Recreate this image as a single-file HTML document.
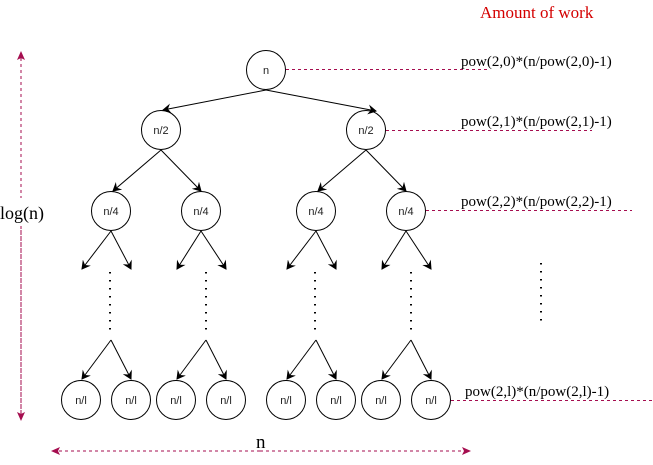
<!DOCTYPE html>
<html><head><meta charset="utf-8"><style>html,body{margin:0;padding:0;background:#fff;}</style></head>
<body>
<svg width="653" height="460" viewBox="0 0 653 460" xmlns="http://www.w3.org/2000/svg">
<defs>
<marker id="a" markerWidth="10" markerHeight="10" refX="8" refY="5" orient="auto" markerUnits="userSpaceOnUse"><path d="M0,0 L9,5 L0,10 L3,5 Z" fill="#000"/></marker>
<marker id="r" markerWidth="10" markerHeight="10" refX="8" refY="5" orient="auto" markerUnits="userSpaceOnUse"><path d="M0,1 L9,5 L0,9 L2,5 Z" fill="#a50d4f"/></marker>
</defs>
<g fill="none" stroke="#000" stroke-width="1">
<circle cx="266" cy="70" r="19.5"/>
<circle cx="161" cy="130" r="19.5"/><circle cx="366" cy="130" r="19.5"/>
<circle cx="111" cy="211" r="19.5"/><circle cx="201" cy="211" r="19.5"/><circle cx="316" cy="211" r="19.5"/><circle cx="406" cy="211" r="19.5"/>
<circle cx="81" cy="400" r="19.5"/><circle cx="131" cy="400" r="19.5"/><circle cx="176" cy="400" r="19.5"/><circle cx="226" cy="400" r="19.5"/>
<circle cx="286" cy="400" r="19.5"/><circle cx="336" cy="400" r="19.5"/><circle cx="381" cy="400" r="19.5"/><circle cx="431" cy="400" r="19.5"/>
<g marker-end="url(#a)">
<line x1="266" y1="90" x2="163" y2="110"/><line x1="266" y1="90" x2="376" y2="111"/>
<line x1="161" y1="150" x2="113" y2="191"/><line x1="161" y1="150" x2="201" y2="191"/>
<line x1="366" y1="150" x2="318" y2="191"/><line x1="366" y1="150" x2="406" y2="191"/>
<line x1="111" y1="231" x2="82" y2="269"/><line x1="111" y1="231" x2="131" y2="269"/>
<line x1="201" y1="231" x2="177" y2="269"/><line x1="201" y1="231" x2="226" y2="269"/>
<line x1="316" y1="231" x2="287" y2="269"/><line x1="316" y1="231" x2="336" y2="269"/>
<line x1="406" y1="231" x2="382" y2="269"/><line x1="406" y1="231" x2="431" y2="269"/>
<line x1="111" y1="340" x2="82" y2="379"/><line x1="111" y1="340" x2="131" y2="379"/>
<line x1="206" y1="340" x2="177" y2="379"/><line x1="206" y1="340" x2="226" y2="379"/>
<line x1="316" y1="340" x2="287" y2="379"/><line x1="316" y1="340" x2="336" y2="379"/>
<line x1="411" y1="340" x2="382" y2="379"/><line x1="411" y1="340" x2="431" y2="379"/>
</g>
</g>
<g stroke="#000" stroke-width="2" stroke-dasharray="1.5 6.5" fill="none">
<line x1="110" y1="272" x2="110" y2="332"/><line x1="206" y1="272" x2="206" y2="332"/>
<line x1="315" y1="272" x2="315" y2="332"/><line x1="411" y1="272" x2="411" y2="332"/>
<line x1="541" y1="263" x2="541" y2="323"/>
</g>
<g stroke="#a50d4f" stroke-width="1" stroke-dasharray="3 3" fill="none">
<line x1="286" y1="69.5" x2="487" y2="69.5"/>
<line x1="386" y1="130.5" x2="592" y2="130.5"/>
<line x1="426" y1="210.5" x2="632" y2="210.5"/>
<line x1="451" y1="400.5" x2="653" y2="400.5"/>
<line x1="21" y1="415" x2="21" y2="52" marker-end="url(#r)"/>
<line x1="21" y1="200" x2="21" y2="420" marker-end="url(#r)"/>
<line x1="260" y1="451" x2="52" y2="451" marker-end="url(#r)"/>
<line x1="260" y1="451" x2="470" y2="451" marker-end="url(#r)"/>
</g>
<rect x="0" y="198" width="48" height="28" fill="#fff"/>
<rect x="254" y="432" width="18" height="16" fill="#fff"/>
<g font-family="Liberation Sans, sans-serif" font-size="11" fill="#222" text-anchor="middle">
<text x="266" y="74">n</text>
<text x="161" y="134">n/2</text><text x="366" y="134">n/2</text>
<text x="111" y="215">n/4</text><text x="201" y="215">n/4</text><text x="316" y="215">n/4</text><text x="406" y="215">n/4</text>
<text x="81" y="404">n/l</text><text x="131" y="404">n/l</text><text x="176" y="404">n/l</text><text x="226" y="404">n/l</text>
<text x="286" y="404">n/l</text><text x="336" y="404">n/l</text><text x="381" y="404">n/l</text><text x="431" y="404">n/l</text>
</g>
<g font-family="Liberation Serif, serif" fill="#000">
<text x="480" y="18" font-size="17" fill="#d40000">Amount of work</text>
<text x="461" y="66" font-size="15">pow(2,0)*(n/pow(2,0)-1)</text>
<text x="461" y="126" font-size="15">pow(2,1)*(n/pow(2,1)-1)</text>
<text x="461" y="206" font-size="15">pow(2,2)*(n/pow(2,2)-1)</text>
<text x="465" y="396" font-size="15">pow(2,l)*(n/pow(2,l)-1)</text>
<text x="0" y="219" font-size="18">log(n)</text>
<text x="256" y="448" font-size="19">n</text>
</g>
</svg>
</body></html>
